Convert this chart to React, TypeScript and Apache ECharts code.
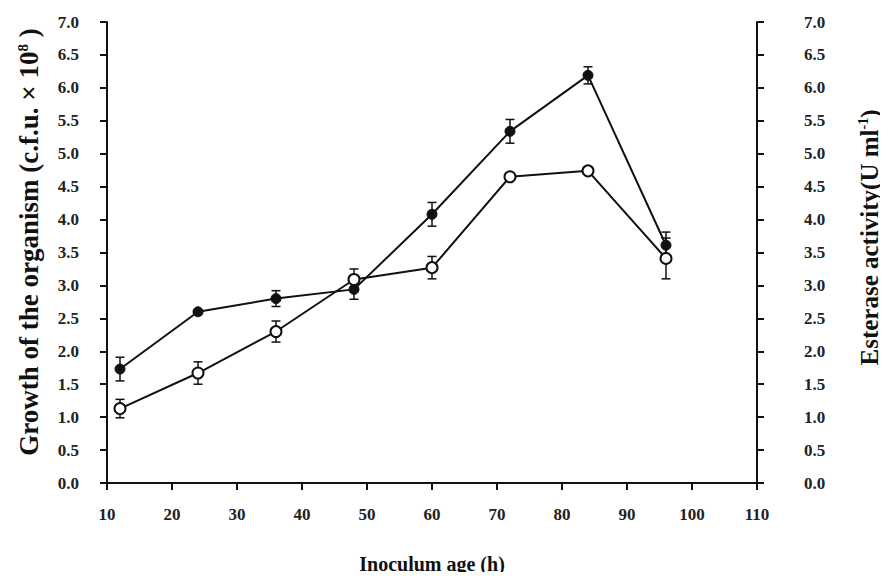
import React, { useEffect, useRef } from "react";
import * as echarts from "echarts";

const hours = [12, 24, 36, 48, 60, 72, 84, 96];
const growth = [1.73, 2.6, 2.8, 2.94, 4.08, 5.34, 6.19, 3.61];
const growthErr = [0.18, 0.03, 0.12, 0.15, 0.18, 0.18, 0.13, 0.2];
const esterase = [1.13, 1.67, 2.3, 3.09, 3.27, 4.65, 4.74, 3.41];
const esteraseErr = [0.14, 0.17, 0.16, 0.16, 0.17, 0.03, 0.03, 0.31];
const xTicks = [10, 20, 30, 40, 50, 60, 70, 80, 90, 100, 110];
const yTicks = [0, 0.5, 1, 1.5, 2, 2.5, 3, 3.5, 4, 4.5, 5, 5.5, 6, 6.5, 7];

const FONT = "'Liberation Serif', 'DejaVu Serif', serif";
const INK = "#111";

function errData(vals: number[], errs: number[]) {
  return hours.map((h, i) => [h, vals[i] - errs[i], vals[i] + errs[i]]);
}

function errRender(params: any, api: any) {
  const x = api.value(0);
  const lo = api.coord([x, api.value(1)]);
  const hi = api.coord([x, api.value(2)]);
  const w = 4.5;
  const style = { stroke: INK, lineWidth: 1.5 };
  return {
    type: "group",
    children: [
      { type: "line", shape: { x1: lo[0], y1: lo[1], x2: hi[0], y2: hi[1] }, style },
      { type: "line", shape: { x1: lo[0] - w, y1: lo[1], x2: lo[0] + w, y2: lo[1] }, style },
      { type: "line", shape: { x1: hi[0] - w, y1: hi[1], x2: hi[0] + w, y2: hi[1] }, style },
    ],
  };
}

export default function App() {
  const ref = useRef<HTMLDivElement>(null);
  useEffect(() => {
    if (!ref.current) return;
    const chart = echarts.init(ref.current, null, { renderer: "svg" });
    const labelStyle = {
      fontFamily: FONT,
      fontWeight: "bold" as const,
      fontSize: 17,
      color: "#222",
    };
    const supStyle = {
      fontFamily: FONT,
      fontWeight: "bold" as const,
      fontSize: 15,
      color: "#111",
      verticalAlign: "top" as const,
      padding: [0, 0, 12, 0],
    };
    const yAxisBase = {
      type: "value" as const,
      min: yTicks[0],
      max: yTicks[yTicks.length - 1],
      interval: 0.5,
      splitLine: { show: false },
      axisLine: { show: true, lineStyle: { color: INK, width: 2 } },
      axisTick: { show: true, inside: false, length: 7, lineStyle: { color: INK, width: 2 } },
      nameLocation: "middle" as const,
    };
    chart.setOption({
      animation: false,
      backgroundColor: "#fff",
      grid: { left: 107, right: 131, top: 22, bottom: 97, outerBoundsMode: "none", containLabel: false },
      xAxis: {
        type: "value",
        min: xTicks[0],
        max: xTicks[xTicks.length - 1],
        interval: 10,
        splitLine: { show: false },
        axisLine: { lineStyle: { color: INK, width: 2 } },
        axisTick: { show: true, length: 7, lineStyle: { color: INK, width: 2 } },
        axisLabel: { ...labelStyle, margin: 23 },
        name: "Inoculum age (h)",
        nameLocation: "middle",
        nameGap: 71,
        nameTextStyle: { fontFamily: FONT, fontWeight: "bold", fontSize: 20, color: "#111" },
      },
      yAxis: [
        {
          ...yAxisBase,
          position: "left",
          axisLabel: { ...labelStyle, margin: 28, formatter: (v: number) => v.toFixed(1) },
          name: "Growth of the organism (c.f.u. × 10{sup|8} )",
          nameGap: 65,
          nameTextStyle: {
            fontFamily: FONT,
            fontWeight: "bold",
            fontSize: 27,
            color: "#111",
            padding: [0, 0, 0, 21],
            rich: { sup: supStyle },
          },
        },
        {
          ...yAxisBase,
          position: "right",
          axisLabel: { ...labelStyle, margin: 47, formatter: (v: number) => v.toFixed(1) },
          name: "Esterase activity(U ml{sup|-1})",
          nameGap: 99,
          nameTextStyle: {
            fontFamily: FONT,
            fontWeight: "bold",
            fontSize: 25,
            color: "#111",
            padding: [0, 0, 0, 30],
            rich: { sup: { ...supStyle, fontSize: 14 } },
          },
        },
      ],
      series: [
        {
          type: "custom",
          yAxisIndex: 0,
          renderItem: errRender,
          data: errData(growth, growthErr),
          z: 1,
        },
        {
          type: "custom",
          yAxisIndex: 1,
          renderItem: errRender,
          data: errData(esterase, esteraseErr),
          z: 1,
        },
        {
          type: "line",
          name: "Growth",
          yAxisIndex: 0,
          data: hours.map((h, i) => [h, growth[i]]),
          symbol: "circle",
          symbolSize: 10,
          lineStyle: { color: INK, width: 2 },
          itemStyle: { color: INK, borderColor: INK, borderWidth: 1 },
          z: 3,
        },
        {
          type: "line",
          name: "Esterase",
          yAxisIndex: 1,
          data: hours.map((h, i) => [h, esterase[i]]),
          symbol: "circle",
          symbolSize: 11,
          lineStyle: { color: INK, width: 2 },
          itemStyle: { color: "#fff", borderColor: INK, borderWidth: 2 },
          z: 3,
        },
      ],
    });
    return () => chart.dispose();
  }, []);
  return <div ref={ref} style={{ width: 888, height: 580, margin: -8 }} />;
}
